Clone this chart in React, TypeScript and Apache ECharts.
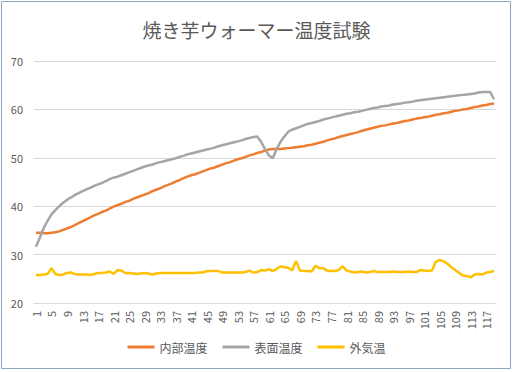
import React, { useEffect, useRef } from "react";
import * as echarts from "echarts";

const titleText = "焼き芋ウォーマー温度試験";
const seriesNames = ["内部温度", "表面温度", "外気温"];

const innerTemp = [
  34.5, 34.5, 34.4, 34.4, 34.5, 34.6, 34.8, 35.1, 35.4, 35.7,
  36.1, 36.5, 36.9, 37.3, 37.7, 38.1, 38.4, 38.8, 39.1, 39.5,
  39.9, 40.2, 40.5, 40.9, 41.1, 41.5, 41.8, 42.1, 42.4, 42.7,
  43.1, 43.4, 43.7, 44.1, 44.4, 44.7, 45.1, 45.4, 45.8, 46.1,
  46.4, 46.6, 46.9, 47.2, 47.5, 47.8, 48.0, 48.3, 48.6, 48.9,
  49.1, 49.4, 49.7, 49.9, 50.2, 50.5, 50.7, 51.0, 51.2, 51.5,
  51.7, 51.8, 51.8, 51.8, 51.9, 52.0, 52.1, 52.2, 52.3, 52.4,
  52.6, 52.7, 52.9, 53.1, 53.3, 53.6, 53.8, 54.0, 54.3, 54.5,
  54.7, 54.9, 55.1, 55.3, 55.6, 55.8, 56.0, 56.2, 56.4, 56.6,
  56.7, 56.9, 57.1, 57.2, 57.4, 57.6, 57.7, 57.9, 58.1, 58.2,
  58.4, 58.5, 58.7, 58.9, 59.0, 59.2, 59.3, 59.5, 59.7, 59.8,
  60.0, 60.1, 60.3, 60.5, 60.6, 60.8, 60.9, 61.1, 61.2,
];

const surfaceTemp = [
  31.6, 33.5, 35.5, 37.0, 38.3, 39.2, 40.0, 40.7, 41.3, 41.8,
  42.3, 42.7, 43.1, 43.5, 43.8, 44.2, 44.5, 44.8, 45.2, 45.6,
  45.9, 46.1, 46.4, 46.7, 47.0, 47.3, 47.6, 47.9, 48.2, 48.4,
  48.6, 48.9, 49.1, 49.3, 49.5, 49.7, 49.9, 50.2, 50.4, 50.7,
  50.9, 51.1, 51.3, 51.5, 51.7, 51.9, 52.1, 52.4, 52.6, 52.8,
  53.0, 53.2, 53.4, 53.6, 53.9, 54.1, 54.3, 54.4, 53.3, 51.8,
  50.5, 49.9, 51.8, 53.3, 54.4, 55.4, 55.8, 56.1, 56.4, 56.7,
  57.0, 57.2, 57.4, 57.6, 57.9, 58.1, 58.3, 58.5, 58.7, 58.9,
  59.1, 59.2, 59.4, 59.5, 59.7, 59.9, 60.1, 60.3, 60.4, 60.6,
  60.7, 60.8, 61.0, 61.1, 61.2, 61.4, 61.5, 61.6, 61.8, 61.9,
  62.0, 62.1, 62.2, 62.3, 62.4, 62.5, 62.6, 62.7, 62.8, 62.9,
  63.0, 63.1, 63.2, 63.3, 63.5, 63.6, 63.6, 63.6, 62.1,
];

const outsideTemp = [
  25.8, 25.8, 25.9, 26.0, 27.2, 26.0, 25.8, 25.9, 26.2, 26.3,
  26.0, 25.9, 25.9, 25.9, 25.8, 26.0, 26.2, 26.2, 26.3, 26.5,
  26.0, 26.8, 26.7, 26.2, 26.2, 26.1, 26.0, 26.1, 26.2, 26.1,
  25.9, 26.1, 26.2, 26.2, 26.2, 26.2, 26.2, 26.2, 26.2, 26.2,
  26.2, 26.2, 26.3, 26.3, 26.6, 26.6, 26.6, 26.6, 26.3, 26.3,
  26.3, 26.3, 26.3, 26.3, 26.4, 26.7, 26.3, 26.4, 26.8, 26.7,
  27.0, 26.6, 27.0, 27.6, 27.4, 27.3, 26.7, 28.7, 26.7, 26.6,
  26.6, 26.5, 27.7, 27.2, 27.2, 26.7, 26.6, 26.6, 26.8, 27.6,
  26.7, 26.5, 26.3, 26.4, 26.5, 26.3, 26.4, 26.6, 26.4, 26.4,
  26.4, 26.4, 26.5, 26.4, 26.4, 26.4, 26.5, 26.4, 26.4, 26.8,
  26.7, 26.6, 26.7, 28.5, 28.9, 28.6, 28.1, 27.4, 26.8, 26.2,
  25.7, 25.6, 25.3, 25.9, 26.0, 25.9, 26.3, 26.4, 26.6,
];

const categories = innerTemp.map((_, i) => String(i + 1));
const colors = ["#ED7D31", "#A5A5A5", "#FFC000"];

export default function App() {
  const ref = useRef<HTMLDivElement>(null);
  useEffect(() => {
    if (!ref.current) return;
    const chart = echarts.init(ref.current, undefined, { renderer: "svg" });
    const font = "'Noto Sans CJK JP', 'Noto Sans', sans-serif";
    chart.setOption({
      animation: false,
      backgroundColor: "#ffffff",
      color: colors,
      textStyle: { fontFamily: font },
      title: {
        text: titleText,
        left: "center",
        top: 15,
        textStyle: { fontSize: 19, fontWeight: "normal", color: "#595959", fontFamily: font },
      },
      grid: { left: 34, right: 17, top: 61, bottom: 69 },
      xAxis: {
        type: "category",
        data: categories,
        boundaryGap: true,
        axisLine: { lineStyle: { color: "#D9D9D9", width: 1 } },
        axisTick: { show: false },
        axisLabel: {
          interval: 3,
          rotate: 90,
          fontSize: 11,
          color: "#595959",
          margin: 8,
          fontFamily: font,
        },
      },
      yAxis: {
        type: "value",
        min: 20,
        max: 70,
        interval: 10,
        axisLine: { show: false },
        axisTick: { show: false },
        splitLine: { lineStyle: { color: "#D9D9D9", width: 1 } },
        axisLabel: { fontSize: 11, color: "#595959", margin: 11, fontFamily: font },
      },
      legend: {
        bottom: 14,
        left: "center",
        icon: "rect",
        itemWidth: 27,
        itemHeight: 3,
        itemGap: 15,
        textStyle: { fontSize: 12, color: "#595959", fontFamily: font },
        data: seriesNames,
      },
      series: [innerTemp, surfaceTemp, outsideTemp].map((d, i) => ({
        name: seriesNames[i],
        type: "line",
        data: d,
        symbol: "none",
        lineStyle: { width: 2.5, color: colors[i] },
        itemStyle: { color: colors[i] },
      })),
      graphic: [
        {
          type: "rect",
          shape: { x: 1.5, y: 1.5, width: 509, height: 367 },
          style: { fill: "none", stroke: "#8EA9C8", lineWidth: 1 },
          silent: true,
        },
      ],
    });
    return () => chart.dispose();
  }, []);
  return (
    <div
      ref={ref}
      style={{ position: "fixed", left: 0, top: 0, width: 513, height: 372 }}
    />
  );
}
